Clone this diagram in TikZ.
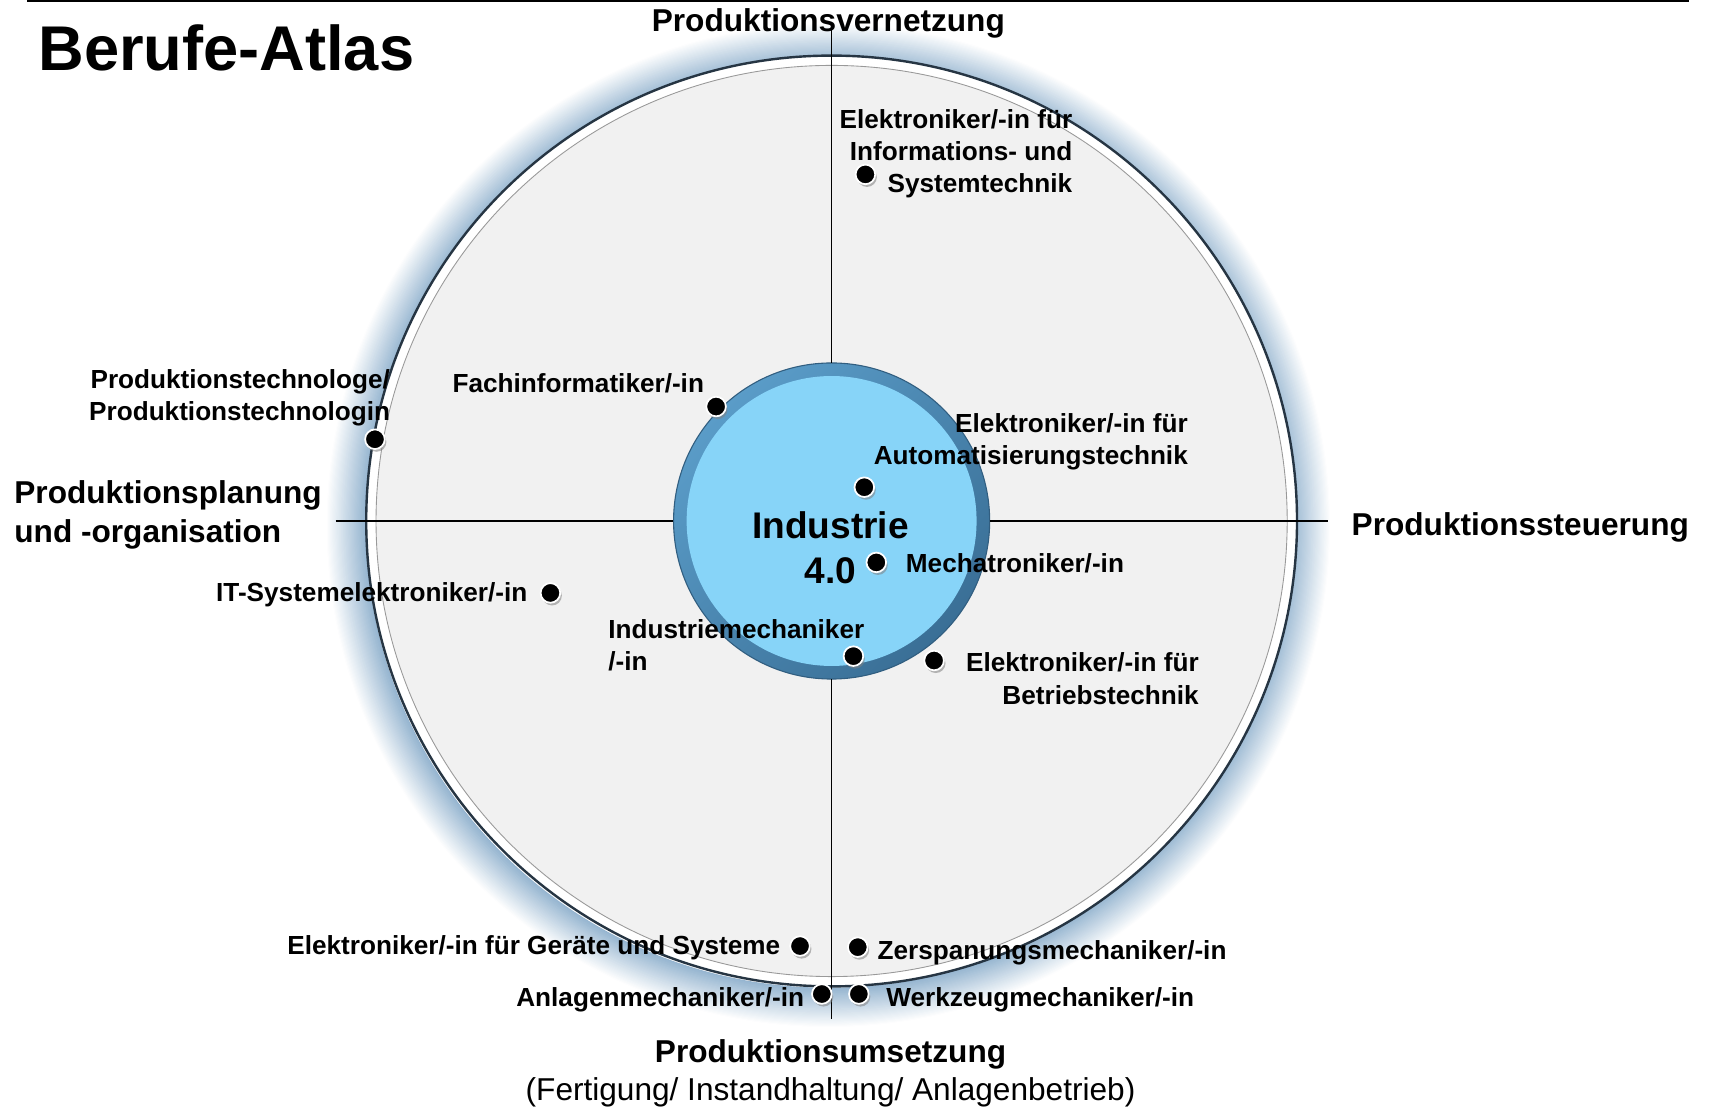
\documentclass[tikz,border=0pt]{standalone}
\usepackage{fontspec}
\setmainfont{Liberation Sans}
\usetikzlibrary{shadows}
\definecolor{glowc}{HTML}{8AADCB}
\definecolor{ringdark}{HTML}{263543}
\definecolor{discfill}{HTML}{F1F1F1}
\definecolor{coreringA}{HTML}{3A6F96}
\definecolor{coreringB}{HTML}{5A9CC8}
\definecolor{corefill}{HTML}{87D4F8}
\begin{document}
\begin{tikzpicture}[x=1pt,y=-1pt,
  lab/.style={font=\fontsize{24}{29.5}\selectfont\bfseries, inner sep=0pt},
  axlab/.style={font=\fontsize{29}{36}\selectfont\bfseries, inner sep=0pt},
  dotn/.style={circle, fill=black, draw=white, line width=1.6pt, minimum size=18pt, inner sep=0pt,
     drop shadow={shadow xshift=1.5pt, shadow yshift=-2.5pt, fill=black!50, opacity=0.55}},
  axisline/.style={line width=1.4pt, black}]
\useasboundingbox (0,0) rectangle (1568,1015);
\fill[white] (0,0) rectangle (1568,1015);
% top rule
\coordinate (ruleL) at (25,1);
\coordinate (ruleR) at (1550,1);
\draw[line width=2.2pt] (ruleL) -- (ruleR);
% glow
\foreach \i in {0,...,36}{
  \pgfmathtruncatemacro\p{90-2.5*\i}
  \draw[glowc!\p!white, line width=1.6pt] (760,482) circle[radius={(425+\i)*1pt}];
}
% big disc
\fill[white] (763,478) circle[radius=427pt];
\draw[ringdark, line width=2.2pt] (763,478) circle[radius=427pt];
\fill[discfill] (763,478) circle[radius=418pt];
\draw[black!40, line width=0.8pt] (763,478) circle[radius=418pt];
% core
\node[circle, minimum size=290pt, inner sep=0pt, left color=coreringB, right color=coreringA, shading angle=45] (core) at (763,478) {};
\draw[coreringA!85!black, line width=1pt] (core.center) circle[radius=145pt];
\fill[corefill] (core.center) circle[radius=133pt];
% axes
\coordinate (vt) at (763,20);
\coordinate (vb) at (763,935);
\coordinate (hl) at (308,478);
\coordinate (hr) at (1218,478);
\draw[axisline] (vt) -- (core.north);
\draw[axisline] (core.south) -- (vb);
\draw[axisline] (hl) -- (core.west);
\draw[axisline] (core.east) -- (hr);
% titles
\node[font=\fontsize{58}{60}\selectfont\bfseries, inner sep=0pt, anchor=base west] (title) at (35,65) {Berufe-Atlas};
\node[axlab, anchor=base] (aTop) at (760,29) {Produktionsvernetzung};
\node[axlab, anchor=base west] (aRight) at (1240,491) {Produktionssteuerung};
\node[axlab, anchor=base west, align=left] (aLeft) at (13,498) {Produktionsplanung\\und -organisation};
\node[axlab, anchor=base] (aBot) at (762,975) {Produktionsumsetzung};
\node[font=\fontsize{29}{36}\selectfont, inner sep=0pt, anchor=base] (aBotSub) at (762,1010) {(Fertigung/ Instandhaltung/ Anlagenbetrieb)};
\node[font=\fontsize{34}{41}\selectfont\bfseries, inner sep=0pt, anchor=base, align=center] (ind) at (762,535) {Industrie\\4.0};
% labels
\node[lab, anchor=base east, align=right] (lInfo) at (984,177) {Elektroniker/-in für\\Informations- und\\Systemtechnik};
\node[lab, anchor=base east, align=right] (lPT) at (358,386) {Produktionstechnologe/\\Produktionstechnologin};
\node[lab, anchor=base west] (lFach) at (415,360) {Fachinformatiker/-in};
\node[lab, anchor=base east, align=right] (lAuto) at (1090,426) {Elektroniker/-in für\\Automatisierungstechnik};
\node[lab, anchor=base west] (lMech) at (831,525) {Mechatroniker/-in};
\node[lab, anchor=base west, align=left] (lIM) at (558,615) {Industriemechaniker\\/-in};
\node[lab, anchor=base east, align=right] (lBetr) at (1100,646) {Elektroniker/-in für\\Betriebstechnik};
\node[lab, anchor=base east] (lIT) at (484,552) {IT-Systemelektroniker/-in};
\node[lab, anchor=base east] (lGer) at (716,876) {Elektroniker/-in für Geräte und Systeme};
\node[lab, anchor=base west] (lZer) at (805,880) {Zerspanungsmechaniker/-in};
\node[lab, anchor=base east] (lAnl) at (738,923) {Anlagenmechaniker/-in};
\node[lab, anchor=base west] (lWerk) at (813,923) {Werkzeugmechaniker/-in};
% dots
\node[dotn] (dInfo) at (794,160) {};
\node[dotn] (dPT) at (344,403) {};
\node[dotn] (dFach) at (657,373) {};
\node[dotn] (dAuto) at (793,447) {};
\node[dotn] (dMech) at (804,516) {};
\node[dotn] (dIM) at (783,602) {};
\node[dotn] (dBetr) at (857,606) {};
\node[dotn] (dIT) at (505,544) {};
\node[dotn] (dGer) at (734,868) {};
\node[dotn] (dZer) at (787,869) {};
\node[dotn] (dAnl) at (754,912) {};
\node[dotn] (dWerk) at (788,912) {};
\end{tikzpicture}
\end{document}
